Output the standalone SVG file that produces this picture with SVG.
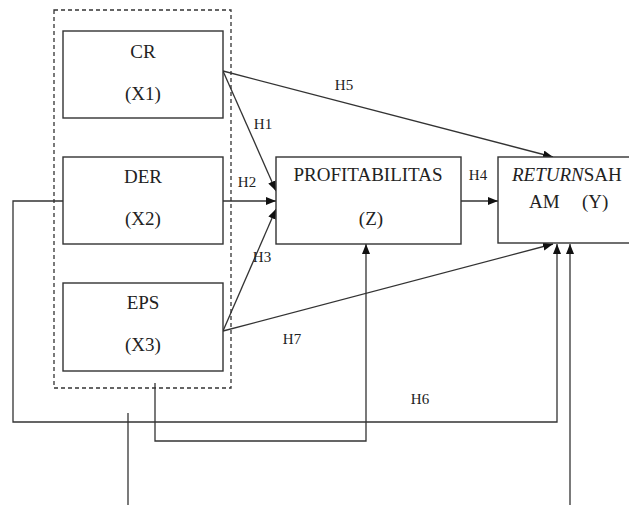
<svg xmlns="http://www.w3.org/2000/svg" width="629" height="505" viewBox="0 0 629 505">
<style>
.box{fill:#fff;stroke:#333;stroke-width:1.4}
.t{font-family:"Liberation Serif","Times New Roman",serif;font-size:19px;fill:#222;text-anchor:middle}
.l{font-family:"Liberation Serif","Times New Roman",serif;font-size:15px;fill:#222;text-anchor:middle}
.c{fill:none;stroke:#333;stroke-width:1.3}
</style>
<defs>
<marker id="ah" markerUnits="userSpaceOnUse" markerWidth="11" markerHeight="9" refX="10" refY="4" orient="auto">
<path d="M0,0 L10,4 L0,8 z" fill="#111"/>
</marker>
</defs>
<rect width="629" height="505" fill="#fff"/>
<rect x="54" y="10" width="177" height="378" fill="none" stroke="#333" stroke-width="1.3" stroke-dasharray="4,3"/>
<g id="connectors">
<path class="c" d="M63,201 H13 V422 H557 V244" marker-end="url(#ah)"/>
<path class="c" d="M155,383 V441 H366 V244" marker-end="url(#ah)"/>
<path class="c" d="M128,413 V505"/>
<path class="c" d="M570,505 V244" marker-end="url(#ah)"/>
<path class="c" d="M223,71 L276,191" marker-end="url(#ah)"/>
<path class="c" d="M223,71 L553,157" marker-end="url(#ah)"/>
<path class="c" d="M223,201 L276,201" marker-end="url(#ah)"/>
<path class="c" d="M223,331 L276,209" marker-end="url(#ah)"/>
<path class="c" d="M223,331 L553,244" marker-end="url(#ah)"/>
<path class="c" d="M461,201 L498,201" marker-end="url(#ah)"/>
<text class="l" x="263" y="129">H1</text>
<text class="l" x="247" y="187">H2</text>
<text class="l" x="262" y="262">H3</text>
<text class="l" x="478" y="180">H4</text>
<text class="l" x="344" y="90">H5</text>
<text class="l" x="420" y="404">H6</text>
<text class="l" x="292" y="344">H7</text>
</g>
<g id="cr">
<rect class="box" x="63" y="31" width="160" height="87"/>
<text class="t" x="143" y="58">CR</text>
<text class="t" x="143" y="100">(X1)</text>
</g>
<g id="der">
<rect class="box" x="63" y="157" width="160" height="87"/>
<text class="t" x="143" y="183">DER</text>
<text class="t" x="143" y="225">(X2)</text>
</g>
<g id="eps">
<rect class="box" x="63" y="283" width="160" height="88"/>
<text class="t" x="143" y="309">EPS</text>
<text class="t" x="143" y="351">(X3)</text>
</g>
<g id="profitabilitas">
<rect class="box" x="276" y="157" width="185" height="87"/>
<text class="t" x="368" y="181">PROFITABILITAS</text>
<text class="t" x="371" y="225">(Z)</text>
</g>
<g id="return">
<rect class="box" x="498" y="157" width="150" height="86"/>
<text class="t" x="512" y="181" style="text-anchor:start"><tspan font-style="italic">RETURN</tspan>SAH</text>
<text class="t" x="529" y="208" style="text-anchor:start">AM</text>
<text class="t" x="582" y="208" style="text-anchor:start">(Y)</text>
</g>
</svg>
